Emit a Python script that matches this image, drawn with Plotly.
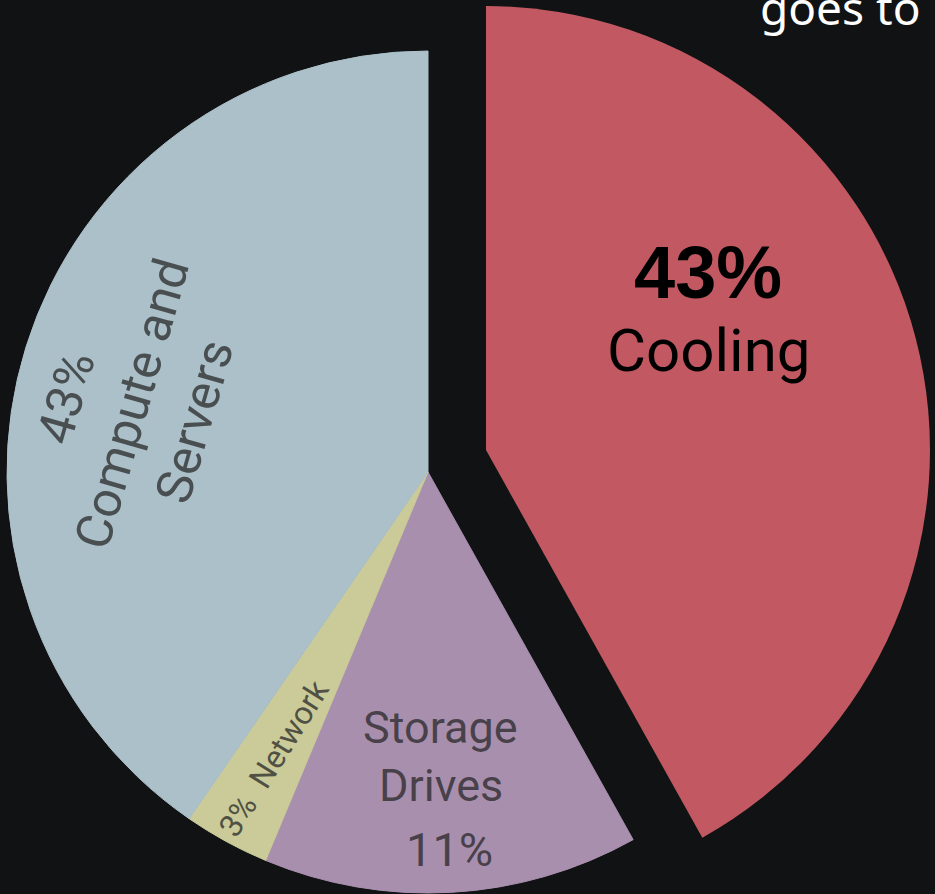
import plotly.graph_objects as go

# ---- data ----
categories = ["Cooling", "Storage Drives", "Network", "Compute and Servers"]
slice_values = [41.9, 14.4, 3.3, 40.4]          # angular share as drawn
shown_pct = ["43%", "11%", "3%", "43%"]          # percentages printed on the chart
colors = ["#C25962", "#A88FAE", "#CACB99", "#ACC0C9"]

W, H = 935, 894
BG = "#111213"
CLEAR = "rgba(0,0,0,0)"


def px_x(v):
    return v / W


def px_y(v):
    return 1 - v / H


fig = go.Figure()

# Base pie: all slices except Cooling
base_cols = [CLEAR] + colors[1:]
fig.add_trace(go.Pie(
    labels=categories, values=slice_values, sort=False, direction="clockwise",
    rotation=0, textinfo="none", hoverinfo="skip", showlegend=False,
    marker=dict(colors=base_cols, line=dict(width=1, color=base_cols)),
    domain=dict(x=[px_x(7), px_x(849)], y=[px_y(893), px_y(51)]),
))

# Exploded, slightly larger Cooling slice
cool_cols = [colors[0], CLEAR, CLEAR, CLEAR]
fig.add_trace(go.Pie(
    labels=categories, values=slice_values, sort=False, direction="clockwise",
    rotation=0, textinfo="none", hoverinfo="skip", showlegend=False,
    marker=dict(colors=cool_cols, line=dict(width=0)),
    domain=dict(x=[px_x(42), px_x(930)], y=[0, px_y(6)]),
))

gray = "rgba(40,40,40,0.75)"
ann = []
# Cooling
ann.append(dict(text="<b>" + shown_pct[0] + "</b>", x=px_x(708), y=px_y(273),
                font=dict(family="Liberation Sans", size=74, color="#000000")))
ann.append(dict(text=categories[0], x=px_x(709), y=px_y(350),
                font=dict(family="Roboto", size=60, color="#000000")))
# Storage
ann.append(dict(text="Storage", x=px_x(440), y=px_y(727),
                font=dict(family="Roboto", size=45, color=gray)))
ann.append(dict(text="Drives", x=px_x(441), y=px_y(785),
                font=dict(family="Roboto", size=45, color=gray)))
ann.append(dict(text=shown_pct[1], x=px_x(449), y=px_y(849),
                font=dict(family="Roboto", size=47, color=gray)))
# Network
ann.append(dict(text=shown_pct[2] + "\u00a0\u00a0" + categories[2], x=px_x(274), y=px_y(758),
                textangle=-58, font=dict(family="Roboto", size=32, color=gray)))
# Compute and Servers
ann.append(dict(text=shown_pct[3] + "\u00a0\u00a0<br>Compute and<br>Servers",
                x=px_x(132), y=px_y(404), textangle=-74, align="center",
                font=dict(family="Roboto", size=50, color=gray)))

for a in ann:
    a.update(xref="paper", yref="paper", showarrow=False,
             xanchor="center", yanchor="middle")

# Clipped title text at the top right
ann.append(dict(text="goes to", xref="paper", yref="paper", showarrow=False,
                x=px_x(923), y=px_y(40), xanchor="right", yanchor="bottom",
                font=dict(family="Noto Sans", size=46, color="#FFFFFF")))

fig.update_layout(
    width=W, height=H,
    margin=dict(l=0, r=0, t=0, b=0),
    paper_bgcolor=BG, plot_bgcolor=BG,
    annotations=ann,
)

fig.write_html(
    "out.html",
    config={"displayModeBar": False},
    post_script=("document.documentElement.style.background='#111213';"
                 "document.body.style.margin='0';"
                 "document.body.style.overflow='hidden';"),
)
